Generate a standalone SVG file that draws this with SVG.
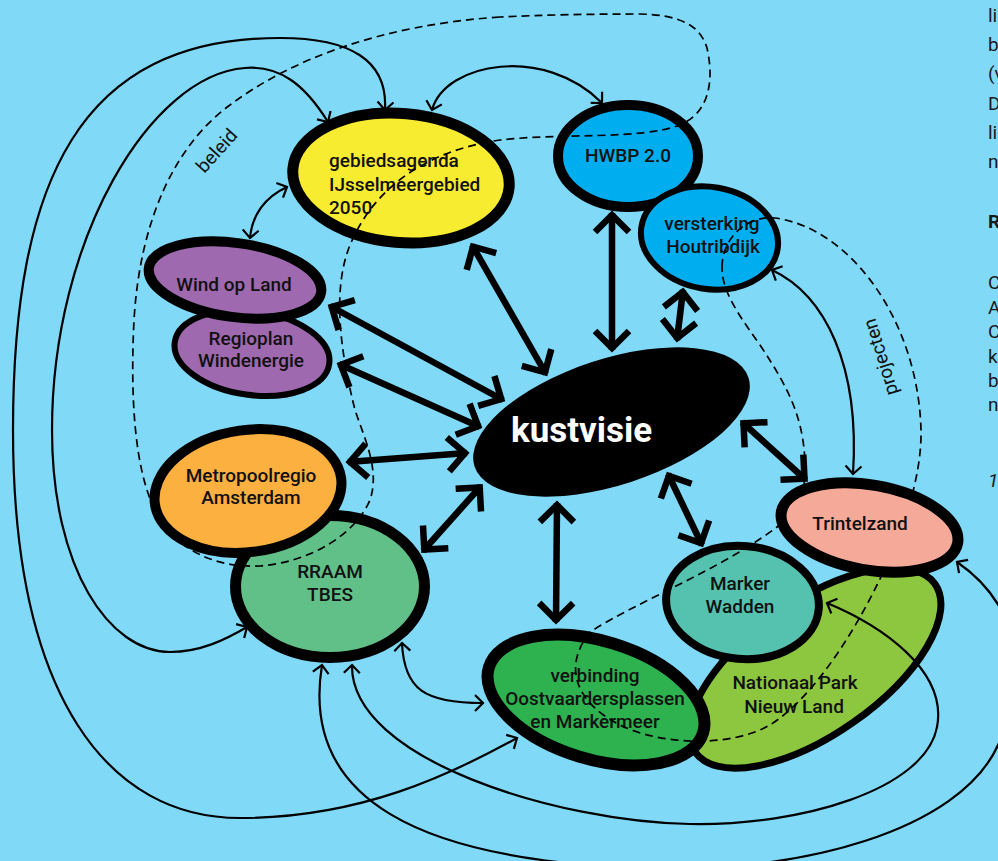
<svg xmlns="http://www.w3.org/2000/svg" width="998" height="861" viewBox="0 0 998 861">
<style>
  text { font-family: Roboto, "Liberation Sans", sans-serif; font-size: 19px; font-weight: 500; fill: #111; }
  .c { text-anchor: middle; }
  .ell { stroke: #000; }
  .thin { fill: none; stroke: #000; stroke-width: 2.2; marker-start: url(#ah); marker-end: url(#ah); }
  .thick { fill: none; stroke: #000; stroke-width: 6.5; marker-start: url(#AH); marker-end: url(#AH); }
  .dash { fill: none; stroke: #000; stroke-width: 1.7; stroke-dasharray: 8 5; }
  .edge { fill: #1a1a1a; font-weight: 400; }
</style>
<defs>
  <marker id="ah" markerUnits="userSpaceOnUse" viewBox="-14 -14 28 28" markerWidth="28" markerHeight="28" refX="0" refY="0" orient="auto-start-reverse">
    <path d="M-8,-8 L0,0 L-8,8" fill="none" stroke="#000" stroke-width="2.2"/>
  </marker>
  <marker id="AH" markerUnits="userSpaceOnUse" viewBox="-30 -30 60 60" markerWidth="60" markerHeight="60" refX="0" refY="0" orient="auto-start-reverse">
    <path d="M-19,-17 L-2,0 L-19,17" fill="none" stroke="#000" stroke-width="6.5"/>
  </marker>
</defs>

<rect width="998" height="861" fill="#7FD9F7"/>

<g id="margin-text">
  <text class="edge" x="988" y="22">li</text>
  <text class="edge" x="988" y="51">b</text>
  <text class="edge" x="988" y="80">(v</text>
  <text class="edge" x="988" y="110">D</text>
  <text class="edge" x="988" y="139">li</text>
  <text class="edge" x="988" y="168">n</text>
  <text class="edge" x="988" y="228" style="font-weight:bold">R</text>
  <text class="edge" x="988" y="289">C</text>
  <text class="edge" x="988" y="314">A</text>
  <text class="edge" x="988" y="338">C</text>
  <text class="edge" x="988" y="363">k</text>
  <text class="edge" x="988" y="387">b</text>
  <text class="edge" x="988" y="411">n</text>
  <text class="edge" x="988" y="487" font-style="italic">1</text>
</g>

<g id="node-regioplan">
  <ellipse class="ell" cx="252" cy="353" rx="78" ry="42" transform="rotate(8 252 353)" fill="#9E69AF" stroke-width="6"/>
  <text class="c" x="251" y="345">Regioplan</text>
  <text class="c" x="251" y="367">Windenergie</text>
</g>
<g id="node-windopland">
  <ellipse class="ell" cx="235" cy="280" rx="87" ry="37" transform="rotate(8 235 280)" fill="#9E69AF" stroke-width="10"/>
  <text class="c" x="234" y="291">Wind op Land</text>
</g>
<g id="node-gebiedsagenda">
  <ellipse class="ell" cx="401" cy="178" rx="108.5" ry="64.5" transform="rotate(5 401 178)" fill="#F8EC31" stroke-width="11"/>
  <text x="329" y="167">gebiedsagenda</text>
  <text x="329" y="191">IJsselmeergebied</text>
  <text x="329" y="214">2050</text>
</g>
<g id="node-hwbp">
  <ellipse class="ell" cx="628" cy="156" rx="70" ry="51" fill="#00AEEF" stroke-width="10"/>
  <text class="c" x="628" y="162">HWBP 2.0</text>
</g>
<g id="node-houtribdijk">
  <ellipse class="ell" cx="709.5" cy="238" rx="69" ry="51" transform="rotate(10 709.5 238)" fill="#00AEEF" stroke-width="6"/>
  <text class="c" x="712" y="230">versterking</text>
  <text class="c" x="713" y="253">Houtribdijk</text>
</g>
<g id="node-rraam">
  <ellipse class="ell" cx="330" cy="586.5" rx="94.5" ry="71" fill="#61BF88" stroke-width="11"/>
  <text class="c" x="330" y="578">RRAAM</text>
  <text class="c" x="330" y="601">TBES</text>
</g>
<g id="node-nationaalpark">
  <ellipse class="ell" cx="815" cy="668" rx="146.5" ry="66.5" transform="rotate(-35 815 668)" fill="#8DC63F" stroke-width="7"/>
  <text class="c" x="795" y="689">Nationaal Park</text>
  <text class="c" x="794" y="713">Nieuw Land</text>
</g>
<g id="node-verbinding">
  <ellipse class="ell" cx="596" cy="700" rx="112" ry="59" transform="rotate(17 596 700)" fill="#2EB24F" stroke-width="12"/>
  <text class="c" x="595" y="682">verbinding</text>
  <text class="c" x="595" y="705">Oostvaardersplassen</text>
  <text class="c" x="595" y="728">en Markermeer</text>
</g>
<g id="node-markerwadden">
  <ellipse class="ell" cx="742.5" cy="602.5" rx="76.5" ry="56.5" transform="rotate(5 742.5 602.5)" fill="#55C2B0" stroke-width="8"/>
  <text class="c" x="740" y="590">Marker</text>
  <text class="c" x="740" y="613">Wadden</text>
</g>

<g id="groups">
  <path class="dash" d="M 500 17 C 380 25, 290 60, 230 105 C 175 145, 140 220, 134 320 C 130 400, 135 470, 155 510 C 175 550, 215 568, 260 566 C 310 562, 355 535, 370 500 C 380 470, 365 440, 355 410 C 340 350, 332 290, 350 245 C 375 185, 430 150, 500 140 C 560 133, 640 140, 680 125 C 715 110, 712 70, 707 48 C 700 25, 680 15, 640 14 C 590 14, 540 15, 500 17 Z"/>
  <text class="c" transform="translate(217 151) rotate(-48)" y="6" style="font-weight:400">beleid</text>
  <path class="dash" d="M 722 267 C 722 240, 745 215, 775 218 C 850 228, 918 320, 921 430 C 922 480, 900 540, 877 585 C 850 640, 810 700, 770 725 C 730 748, 660 745, 620 725 C 580 705, 560 670, 590 632 C 640 600, 720 570, 777 527 C 800 510, 806 490, 805 465 C 804 420, 790 390, 760 345 C 735 310, 722 290, 722 267 Z"/>
  <text class="c" transform="translate(881 357) rotate(-107)" y="6" style="font-weight:400">projecten</text>
</g>

<g id="node-metropoolregio">
  <ellipse class="ell" cx="248" cy="491" rx="94" ry="61" transform="rotate(-8 248 491)" fill="#FBB040" stroke-width="10"/>
  <text class="c" x="251" y="482">Metropoolregio</text>
  <text class="c" x="251" y="504">Amsterdam</text>
</g>
<g id="node-trintelzand">
  <ellipse class="ell" cx="869.5" cy="527.5" rx="89.5" ry="42.5" transform="rotate(10 869.5 527.5)" fill="#F5A998" stroke-width="11"/>
  <text class="c" x="860" y="530">Trintelzand</text>
</g>
<g id="node-kustvisie">
  <ellipse cx="611.5" cy="422" rx="144" ry="63" transform="rotate(-18 611.5 422)" fill="#000"/>
  <text x="511" y="442" style="fill:#fff;font-size:35px;font-weight:bold">kustvisie</text>
</g>

<g id="connectors">
  <path class="thick" d="M 472 245 L 546 374"/>
  <path class="thick" d="M 330 306 L 503 400"/>
  <path class="thick" d="M 339 364 L 480 427"/>
  <path class="thick" d="M 348 462 L 467 453"/>
  <path class="thick" d="M 423 551 L 481 486"/>
  <path class="thick" d="M 612 213 L 612 350"/>
  <path class="thick" d="M 683 290 L 677 340"/>
  <path class="thick" d="M 742 422 L 806 480"/>
  <path class="thick" d="M 668 474 L 702 545"/>
  <path class="thick" d="M 557 503 L 556 622"/>
  <path class="thin" d="M 385 110 C 388 60, 350 38, 280 38 C 80 38, 13 180, 13 430 C 13 700, 110 818, 240 818 C 360 818, 450 775, 517 738"/>
  <path class="thin" d="M 328 122 C 305 85, 280 65, 245 68 C 150 75, 52 240, 52 430 C 52 570, 110 652, 170 652 C 200 652, 225 640, 247 627"/>
  <path class="thin" d="M 432 110 C 445 62, 545 45, 602 103"/>
  <path class="thin" d="M 287 187 C 265 197, 252 215, 250 238"/>
  <path class="thin" d="M 772 270 C 825 295, 860 365, 853 474"/>
  <path class="thin" d="M 322 665 C 300 800, 420 860, 640 868 C 800 875, 960 830, 998 745 C 1040 660, 1005 595, 957 562"/>
  <path class="thin" d="M 352 665 C 350 760, 560 822, 690 824 C 800 826, 925 790, 937 727 C 948 670, 880 625, 827 603"/>
  <path class="thin" d="M 402 643 C 404 690, 425 703, 483 703"/>
</g>
</svg>
